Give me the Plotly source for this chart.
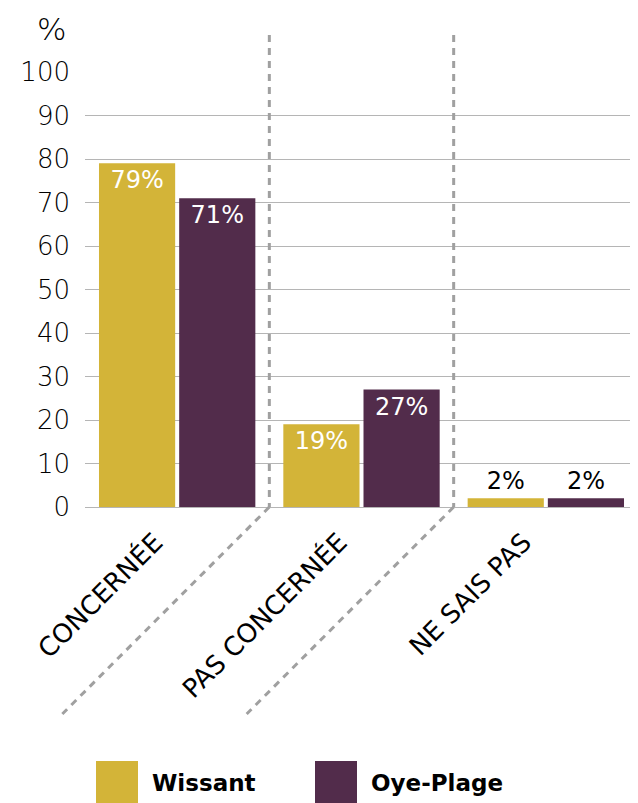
import plotly.graph_objects as go

categories = ["CONCERNÉE", "PAS CONCERNÉE", "NE SAIS PAS"]
wissant = [79, 19, 2]
oye_plage = [71, 27, 2]
series_names = ["Wissant", "Oye-Plage"]
y_ticks = [0, 10, 20, 30, 40, 50, 60, 70, 80, 90, 100]

COLORS = ["#D3B438", "#522C4B"]
OFF = 8  # page body margin
W, H = 638 - OFF, 803 - OFF
ML, MR, MT = 85 - OFF, 0, 72 - OFF
BOTTOM = 507 - OFF          # plot bottom in figure px
MB = H - BOTTOM
PW, PH = W - ML - MR, BOTTOM - MT


def py(page_y):
    """page pixel y -> paper y"""
    return (BOTTOM - (page_y - OFF)) / PH


def px(page_x):
    return (page_x - OFF - ML) / PW


fig = go.Figure()
for name, vals, col in zip(series_names, [wissant, oye_plage], COLORS):
    fig.add_trace(go.Bar(
        x=categories, y=vals, name=name, marker_color=col, marker_line_width=0,
        texttemplate="%{y}%",
        textposition=["inside" if v >= 10 else "outside" for v in vals],
        insidetextanchor="end", textangle=0,
        insidetextfont=dict(family="DejaVu Sans", size=24, color="white"),
        outsidetextfont=dict(family="DejaVu Sans", size=24, color="black"),
        cliponaxis=False, showlegend=False,
    ))

shapes = []
n = len(categories)
diag = 207  # px length of the diagonal drop (45 degrees)
sep_line = dict(color="#a0a0a0", width=3, dash="7px,6px")
for b in range(n - 1):
    xp = (b + 1) / n
    shapes.append(dict(type="line", xref="paper", yref="paper",
                       x0=xp, y0=py(35), x1=xp, y1=0, line=sep_line))
    shapes.append(dict(type="line", xref="paper", yref="paper",
                       x0=xp, y0=0, x1=xp - diag / PW, y1=-diag / PH, line=sep_line))

# legend drawn as squares + labels
leg_x = [96, 315]
sq = 42
annotations = []
for name, col, lx in zip(series_names, COLORS, leg_x):
    shapes.append(dict(type="rect", xref="paper", yref="paper",
                       x0=px(lx), x1=px(lx + sq), y0=py(804), y1=py(761),
                       fillcolor=col, line_width=0, layer="above"))
    annotations.append(dict(xref="paper", yref="paper", x=px(lx + sq + 12),
                            y=py(783), text=name, showarrow=False,
                            xanchor="left", yanchor="middle",
                            font=dict(family="DejaVu Sans", size=23, color="black", weight="bold")))

annotations.append(dict(xref="paper", yref="paper", x=px(51), y=py(9),
                        text="%", showarrow=False, xanchor="center", yanchor="top",
                        font=dict(family="DejaVu Sans", size=31, color="black", weight=200)))

fig.update_layout(
    width=W, height=H,
    margin=dict(l=ML, r=MR, t=MT, b=MB, pad=0),
    paper_bgcolor="white", plot_bgcolor="white",
    barmode="group", bargap=0.13, bargroupgap=0.05,
    shapes=shapes, annotations=annotations,
    showlegend=False,
    xaxis=dict(tickangle=-45, showgrid=False, showline=False, zeroline=False,
               tickfont=dict(family="DejaVu Sans", size=26, color="black"),
               ticklabelshift=-22, ticklabelstandoff=14,
               range=[-0.5, 2.5]),
    yaxis=dict(range=[0, 100], tickvals=y_ticks, showgrid=True, gridcolor="#b5b5b5",
               gridwidth=1, zeroline=True, zerolinecolor="#b5b5b5", zerolinewidth=1,
               showline=False, ticklabelstandoff=14,
               tickfont=dict(family="DejaVu Sans", size=26, color="black", weight=200)),
)

fig.write_html("out.html")
